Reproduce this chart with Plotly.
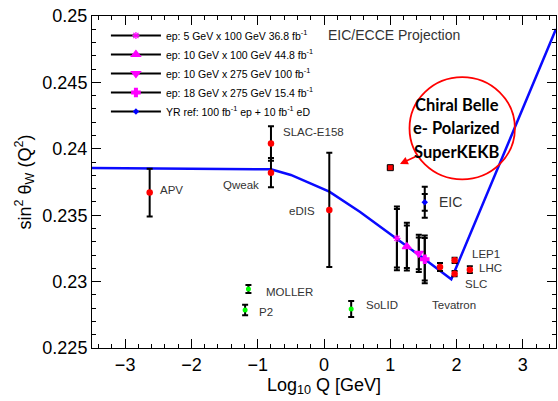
import plotly.graph_objects as go

# ---------------- data ----------------
# running sin^2 theta_W (SM prediction)
curve_logq = [-3.5, -0.8, -0.5, 0.08, 0.54, 1.09, 1.5, 1.92, 3.5]
curve_s2w = [0.23855, 0.23846, 0.23803, 0.23677, 0.23526, 0.23326, 0.23175, 0.23017, 0.24902]

# existing measurements (red)
meas_names = ["APV", "SLAC-E158", "Qweak", "eDIS", "Tevatron", "LEP1", "SLC", "LHC"]
meas_logq = [-2.63, -0.80, -0.80, 0.08, 1.75, 1.97, 1.97, 2.20]
meas_s2w = [0.2367, 0.2404, 0.2382, 0.2354, 0.2311, 0.2316, 0.2306, 0.2309]
meas_err = [0.0018, 0.0013, 0.0011, 0.0043, 0.0003, 0.0002, 0.0002, 0.00025]

# future experiments (green)
fut_names = ["MOLLER", "P2", "SoLID"]
fut_logq = [-1.14, -1.19, 0.41]
fut_s2w = [0.22944, 0.22786, 0.22794]
fut_err = [0.0003, 0.0004, 0.0006]

# Chiral Belle
belle_logq = [1.0]
belle_s2w = [0.23858]
belle_err = [0.0001]

# EIC projections
eic_names = ["ep: 5 GeV x 100 GeV 36.8 fb<sup>-1</sup>",
             "ep: 10 GeV x 100 GeV 44.8 fb<sup>-1</sup>",
             "ep: 10 GeV x 275 GeV 100 fb<sup>-1</sup>",
             "ep: 18 GeV x 275 GeV 15.4 fb<sup>-1</sup>"]
eic_symbols = ["asterisk-open", "triangle-up", "triangle-down", "cross"]
eic_sizes = [6, 8, 8, 7]
eic_logq = [1.10, 1.25, 1.43, 1.52]
eic_s2w = [0.23326, 0.23263, 0.23213, 0.23168]
eic_err_tot = [0.0024, 0.0018, 0.0014, 0.0018]
eic_err_stat = [0.0022, 0.0016, 0.0012, 0.0016]

yr_name = "YR ref: 100 fb<sup>-1</sup> ep + 10 fb<sup>-1</sup> eD"
yr_logq = [1.52]
yr_s2w = [0.23597]
yr_err_tot = [0.00117]
yr_err_stat = [0.00063]

# text labels: (text, x, y, anchor)
labels = [
    ("APV", -2.51, 0.23690, "left"),
    ("SLAC-E158", -0.65, 0.24129, "left"),
    ("Qweak", -0.95, 0.23730, "right"),
    ("eDIS", -0.11, 0.23534, "right"),
    ("MOLLER", -0.905, 0.22919, "left"),
    ("P2", -1.01, 0.22769, "left"),
    ("SoLID", 0.60, 0.22824, "left"),
    ("Tevatron", 1.60, 0.22824, "left"),
    ("SLC", 2.09, 0.22982, "left"),
    ("LHC", 2.31, 0.23105, "left"),
    ("LEP1", 2.20, 0.23206, "left"),
]
belle_lines = ["Chiral Belle", "e- Polarized", "SuperKEKB"]
belle_line_y = [0.24330, 0.24153, 0.23976]

FONT = "Liberation Sans, Arial, Helvetica, sans-serif"

fig = go.Figure()

# SM curve
fig.add_trace(go.Scatter(x=curve_logq, y=curve_s2w, mode="lines",
                         line=dict(color="#0a0aff", width=2.5),
                         showlegend=False, hoverinfo="skip"))

def eb(arr, w=3):
    return dict(type="data", array=arr, visible=True, color="black", thickness=2, width=w)

# measurements
fig.add_trace(go.Scatter(x=meas_logq, y=meas_s2w, mode="markers",
                         marker=dict(color="red", size=6.5),
                         error_y=eb(meas_err), showlegend=False))
# future
fig.add_trace(go.Scatter(x=fut_logq, y=fut_s2w, mode="markers",
                         marker=dict(color="#00ff00", size=5),
                         error_y=eb(fut_err), showlegend=False))
# Chiral Belle
fig.add_trace(go.Scatter(x=belle_logq, y=belle_s2w, mode="markers",
                         marker=dict(color="red", size=6, symbol="square",
                                     line=dict(color="black", width=1)),
                         error_y=eb(belle_err), showlegend=False))

# EIC projections
for i in range(len(eic_logq)):
    fig.add_trace(go.Scatter(x=[eic_logq[i]], y=[eic_s2w[i]], mode="markers",
                             marker=dict(color="rgba(0,0,0,0)", size=1),
                             error_y=eb([eic_err_stat[i]]), showlegend=False,
                             hoverinfo="skip"))
    fig.add_trace(go.Scatter(x=[eic_logq[i]], y=[eic_s2w[i]], mode="lines+markers",
                             name=eic_names[i],
                             line=dict(color="black", width=2),
                             marker=dict(color="#ff00ff", size=eic_sizes[i],
                                         symbol=eic_symbols[i],
                                         line=dict(color="#ff00ff", width=1.2)),
                             error_y=eb([eic_err_tot[i]])))

fig.add_trace(go.Scatter(x=yr_logq, y=yr_s2w, mode="markers",
                         marker=dict(color="rgba(0,0,0,0)", size=1),
                         error_y=eb(yr_err_stat), showlegend=False, hoverinfo="skip"))
fig.add_trace(go.Scatter(x=yr_logq, y=yr_s2w, mode="lines+markers", name=yr_name,
                         line=dict(color="black", width=2),
                         marker=dict(color="blue", size=5, symbol="diamond"),
                         error_y=eb(yr_err_tot)))

# labels
lab_font = dict(family=FONT, size=11.5, color="#333333")
for t, x, y, a in labels:
    fig.add_annotation(x=x, y=y, text=t, showarrow=False, xanchor=a,
                       yanchor="middle", font=lab_font)
fig.add_annotation(x=1.70, y=0.23597, text="EIC", showarrow=False, xanchor="left",
                   yanchor="middle", font=dict(family=FONT, size=14, color="#333333"))
fig.add_annotation(x=0.03, y=0.24857, text="EIC/ECCE Projection", showarrow=False,
                   xanchor="left", yanchor="middle",
                   font=dict(family=FONT, size=14, color="#333333"))

# Chiral Belle circle + text + arrow
fig.add_shape(type="circle", xref="x", yref="y", x0=1.29, x1=2.88, y0=0.23770, y1=0.24540,
              line=dict(color="red", width=1.8))
for t, y in zip(belle_lines, belle_line_y):
    fig.add_annotation(x=2.006, y=y, text="<b>" + t + "</b>",
                       showarrow=False, xanchor="center", yanchor="middle",
                       font=dict(family="Lato, Open Sans, sans-serif", size=16.5, color="black"))
fig.add_annotation(x=1.146, y=0.23886, ax=1.40, ay=0.23946, axref="x", ayref="y",
                   text="", showarrow=True, arrowhead=2, arrowsize=1, arrowwidth=1.6,
                   arrowcolor="red")

axis_common = dict(showline=True, linecolor="black", linewidth=1, mirror="ticks",
                   ticks="inside", tickcolor="black", showgrid=False, zeroline=False,
                   tickfont=dict(family=FONT, size=18, color="black"))

fig.update_xaxes(range=[-3.5, 3.5], dtick=1, ticklen=9,
                 minor=dict(ticks="inside", dtick=0.2, ticklen=4, tickcolor="black"),
                 title=dict(text="Log<sub>10</sub> Q [GeV]",
                            font=dict(family=FONT, size=18, color="black"), standoff=4),
                 **axis_common)
fig.update_yaxes(range=[0.225, 0.25], dtick=0.005, ticklen=9, tickformat="~g",
                 minor=dict(ticks="inside", dtick=0.001, ticklen=4, tickcolor="black"),
                 title=dict(text="sin<sup>2</sup> θ<sub>W</sub> (Q<sup>2</sup>)",
                            font=dict(family=FONT, size=18, color="black"), standoff=6),
                 **axis_common)

fig.update_layout(
    width=558, height=401,
    margin=dict(l=92, r=2, t=16, b=53),
    paper_bgcolor="white", plot_bgcolor="white",
    legend=dict(x=0.03, y=0.985, xanchor="left", yanchor="top",
                bgcolor="rgba(0,0,0,0)", font=dict(family=FONT, size=10.5, color="black"),
                itemwidth=50, tracegroupgap=0),
)

fig.write_html("out.html")
